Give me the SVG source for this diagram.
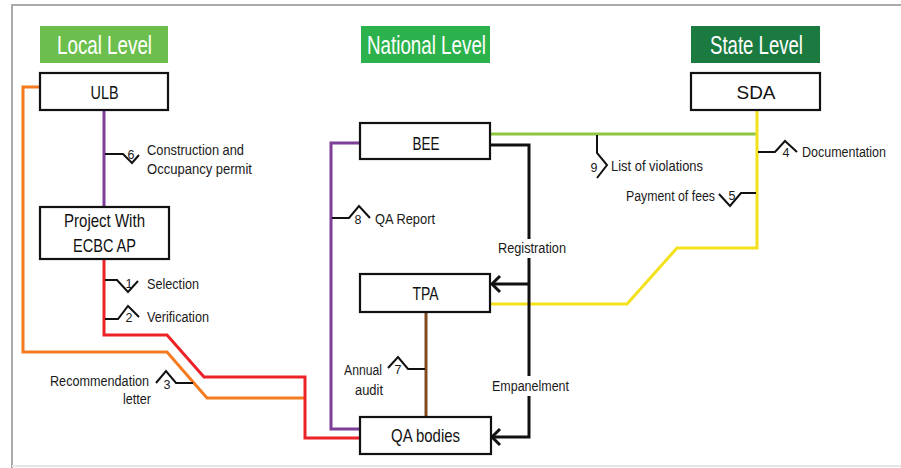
<svg xmlns="http://www.w3.org/2000/svg" width="901" height="468" viewBox="0 0 901 468">
<style>
.frame{fill:none;stroke:#aaaaaa;stroke-width:2}
.hdr{font-family:"Liberation Sans Narrow","Liberation Sans",Arial,sans-serif;font-size:26px;fill:#ffffff;text-anchor:middle}
.box{fill:#ffffff;stroke:#111111;stroke-width:2.2}
.bt{font-family:"Liberation Sans Narrow","Liberation Sans",Arial,sans-serif;font-size:19px;fill:#111111;text-anchor:middle}
.lbl{font-family:"Liberation Sans Narrow","Liberation Sans",Arial,sans-serif;font-size:15.5px;fill:#1a1a1a}
.num{font-family:"Liberation Sans Narrow","Liberation Sans",Arial,sans-serif;font-size:12.5px;fill:#1a1a1a;text-anchor:middle}
.c{fill:none;stroke-width:3;stroke-linejoin:miter}
.mk{fill:none;stroke:#111111;stroke-width:2}
.arr{fill:none;stroke:#111111;stroke-width:3}
</style>
<rect x="0" y="0" width="901" height="468" fill="#ffffff"/>
<path class="frame" d="M12,468 V5 H901"/>
<line x1="12" y1="466" x2="901" y2="466" stroke="#e6e6e6" stroke-width="2"/>

<g id="headers">
<g id="hdr-local"><rect x="40" y="26" width="128" height="37" fill="#6cbf4c"/><text class="hdr" x="104.5" y="54" textLength="95" lengthAdjust="spacingAndGlyphs">Local Level</text></g>
<g id="hdr-national"><rect x="361" y="26" width="129" height="37" fill="#2bb24c"/><text class="hdr" x="426.5" y="54" textLength="119" lengthAdjust="spacingAndGlyphs">National Level</text></g>
<g id="hdr-state"><rect x="691" y="26" width="129" height="37" fill="#1b7a40"/><text class="hdr" x="756.5" y="54" textLength="93" lengthAdjust="spacingAndGlyphs">State Level</text></g>
</g>

<g id="connectors">
<path class="c" stroke="#f47b20" d="M40,87 H23 V352 H167 L207,398 H305"/>
<path class="c" stroke="#ec2227" d="M104,259 V335 H167 L204,377 H305 V438 H360"/>
<path class="c" stroke="#7d3f98" d="M104,111 V207"/>
<path class="c" stroke="#7d3f98" d="M360,143 H331 V429 H360"/>
<path class="c" stroke="#8dc63f" d="M490,134 H757"/>
<path class="c" stroke="#f2e11b" d="M757,111 V248 H677 L627,304 H491"/>
<path class="c" stroke="#7f4a1e" d="M426,312 V417"/>
<path class="c" stroke="#111111" d="M490,145 H529 V437 H493 M529,284 H493"/>
<polyline class="arr" points="500,276 492,284 500,292"/>
<polyline class="arr" points="500,429 492,437 500,445"/>
<rect x="496" y="239" width="70" height="19" fill="#ffffff"/>
<text class="lbl" x="498" y="253" textLength="68" lengthAdjust="spacingAndGlyphs">Registration</text>
<rect x="490" y="376" width="81" height="20" fill="#ffffff"/>
<text class="lbl" x="492" y="391" textLength="77" lengthAdjust="spacingAndGlyphs">Empanelment</text>

<g id="m6"><polyline class="mk" points="105,154 123,154 132,163 139,155"/><text class="num" x="131" y="159">6</text>
<text class="lbl" x="147" y="155" textLength="97" lengthAdjust="spacingAndGlyphs">Construction and</text>
<text class="lbl" x="147" y="174" textLength="105" lengthAdjust="spacingAndGlyphs">Occupancy permit</text></g>
<g id="m1"><polyline class="mk" points="105,280 117,280 128,292 138,281"/><text class="num" x="129" y="288">1</text>
<text class="lbl" x="147" y="289" textLength="52" lengthAdjust="spacingAndGlyphs">Selection</text></g>
<g id="m2"><polyline class="mk" points="105,319 118,319 128,306 139,317"/><text class="num" x="129" y="322">2</text>
<text class="lbl" x="147" y="322" textLength="62" lengthAdjust="spacingAndGlyphs">Verification</text></g>
<g id="m3"><polyline class="mk" points="193,383 176,383 166,371 156,383"/><text class="num" x="167" y="389">3</text>
<text class="lbl" x="50" y="386" textLength="99" lengthAdjust="spacingAndGlyphs">Recommendation</text>
<text class="lbl" x="123" y="404" textLength="28" lengthAdjust="spacingAndGlyphs">letter</text></g>
<g id="m7"><polyline class="mk" points="425,369 408,369 398,357 388,368"/><text class="num" x="398" y="374">7</text>
<text class="lbl" x="344" y="375" textLength="38" lengthAdjust="spacingAndGlyphs">Annual</text>
<text class="lbl" x="355" y="395" textLength="28" lengthAdjust="spacingAndGlyphs">audit</text></g>
<g id="m8"><polyline class="mk" points="332,218 349,218 359,206 370,218"/><text class="num" x="358" y="224">8</text>
<text class="lbl" x="375" y="224" textLength="60" lengthAdjust="spacingAndGlyphs">QA Report</text></g>
<g id="m4"><polyline class="mk" points="758,152 775,152 785,141 797,152"/><text class="num" x="786" y="157">4</text>
<text class="lbl" x="802" y="157" textLength="84" lengthAdjust="spacingAndGlyphs">Documentation</text></g>
<g id="m5"><polyline class="mk" points="756,193 741,193 730,206 719,194"/><text class="num" x="732" y="200">5</text>
<text class="lbl" x="626" y="201" textLength="89" lengthAdjust="spacingAndGlyphs">Payment of fees</text></g>
<g id="m9"><polyline class="mk" points="597,135 597,153 607,165 597,178"/><text class="num" x="594" y="172">9</text>
<text class="lbl" x="611" y="171" textLength="92" lengthAdjust="spacingAndGlyphs">List of violations</text></g>
</g>

<g id="node-ulb"><rect class="box" x="40" y="73" width="128" height="37"/><text class="bt" x="104.5" y="99" textLength="28" lengthAdjust="spacingAndGlyphs">ULB</text></g>
<g id="node-sda"><rect class="box" x="691" y="73" width="129" height="37"/><text class="bt" x="756" y="99" textLength="39" lengthAdjust="spacingAndGlyphs">SDA</text></g>
<g id="node-bee"><rect class="box" x="360" y="123" width="130" height="36"/><text class="bt" x="426" y="150" textLength="27" lengthAdjust="spacingAndGlyphs">BEE</text></g>
<g id="node-project"><rect class="box" x="40" y="207" width="129" height="52"/><text class="bt" x="104.5" y="227" textLength="81" lengthAdjust="spacingAndGlyphs">Project With</text><text class="bt" x="104.5" y="252" textLength="63" lengthAdjust="spacingAndGlyphs">ECBC AP</text></g>
<g id="node-tpa"><rect class="box" x="360" y="274" width="130" height="38"/><text class="bt" x="425.5" y="300" textLength="26" lengthAdjust="spacingAndGlyphs">TPA</text></g>
<g id="node-qa"><rect class="box" x="360" y="417" width="131" height="37"/><text class="bt" x="425.5" y="442" textLength="69" lengthAdjust="spacingAndGlyphs">QA bodies</text></g>
</svg>
